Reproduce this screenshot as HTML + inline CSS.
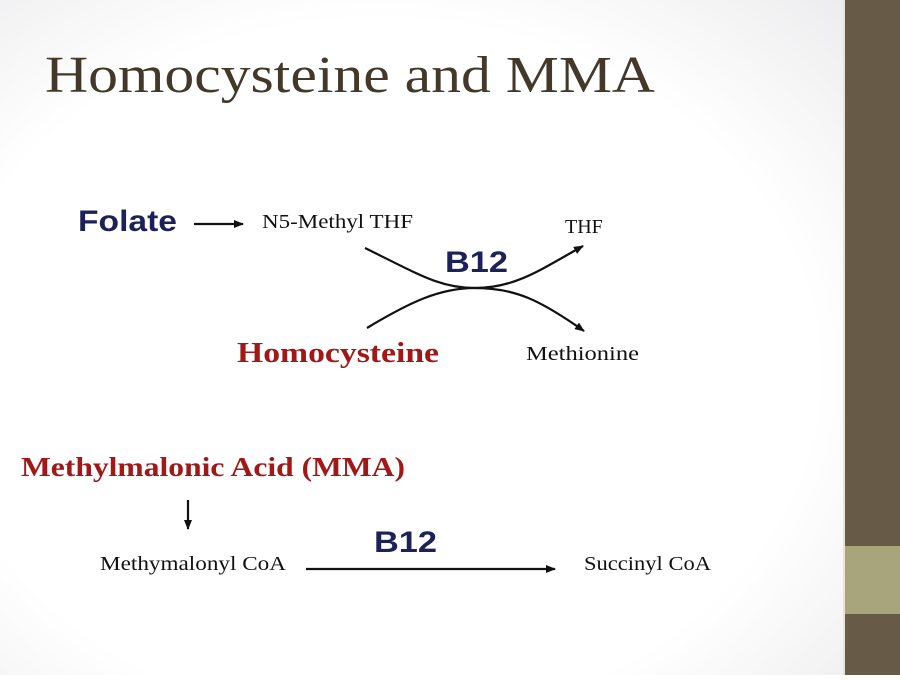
<!DOCTYPE html>
<html><head><style>body{margin:0;background:#fff}</style></head><body>
<svg width="900" height="675" xmlns="http://www.w3.org/2000/svg">
<defs>
<radialGradient id="g" cx="0.45" cy="0.55" r="0.8"><stop offset="0.65" stop-color="#fff"/><stop offset="1" stop-color="#ebebed"/></radialGradient>
<marker id="a" markerWidth="10" markerHeight="8" refX="9" refY="4" orient="auto" markerUnits="userSpaceOnUse"><path d="M0,0 L10,4 L0,8 z" fill="#111"/></marker>
</defs>
<rect width="843" height="675" fill="url(#g)"/>
<rect x="843" width="2" height="675" fill="#e9e4d4"/>
<rect x="845" width="55" height="675" fill="#675b48"/>
<rect x="845" y="546" width="55" height="68" fill="#a8a47b"/>
<text x="45" y="92" font-family="Liberation Serif,serif" font-size="52" fill="#42392a" textLength="610" lengthAdjust="spacingAndGlyphs">Homocysteine and MMA</text>
<g font-family="Liberation Sans,sans-serif" font-weight="bold">
<text x="78" y="231" font-size="30" fill="#1c2158" textLength="99" lengthAdjust="spacingAndGlyphs">Folate</text>
<text x="445" y="272" font-size="30" fill="#1c2158" textLength="63" lengthAdjust="spacingAndGlyphs">B12</text>
<text x="237" y="362" font-size="28" fill="#a01818" font-family="Liberation Serif,serif" textLength="202" lengthAdjust="spacingAndGlyphs">Homocysteine</text>
<text x="21" y="476" font-size="27" fill="#a01818" font-family="Liberation Serif,serif" textLength="384" lengthAdjust="spacingAndGlyphs">Methylmalonic Acid (MMA)</text>
<text x="374" y="552" font-size="30" fill="#1c2158" textLength="63" lengthAdjust="spacingAndGlyphs">B12</text>
</g>
<g font-family="Liberation Serif,serif" font-size="20" fill="#111">
<text x="262" y="228" textLength="151" lengthAdjust="spacingAndGlyphs">N5-Methyl THF</text>
<text x="565" y="233">THF</text>
<text x="526" y="360" textLength="113" lengthAdjust="spacingAndGlyphs">Methionine</text>
<text x="100" y="570" textLength="186" lengthAdjust="spacingAndGlyphs">Methymalonyl CoA</text>
<text x="584" y="570" textLength="127" lengthAdjust="spacingAndGlyphs">Succinyl CoA</text>
</g>
<g stroke="#111" stroke-width="2.2" fill="none">
<line x1="194" y1="224" x2="243" y2="224" marker-end="url(#a)"/>
<path d="M365,248 C420,275 440,288 475,288 C515,288 540,270 583,246" marker-end="url(#a)"/>
<path d="M367,328 C410,302 440,288 475,288 C515,288 540,300 584,331" marker-end="url(#a)"/>
<line x1="188" y1="500" x2="188" y2="529" marker-end="url(#a)"/>
<line x1="306" y1="569" x2="555" y2="569" marker-end="url(#a)"/>
</g>
</svg>
</body></html>
